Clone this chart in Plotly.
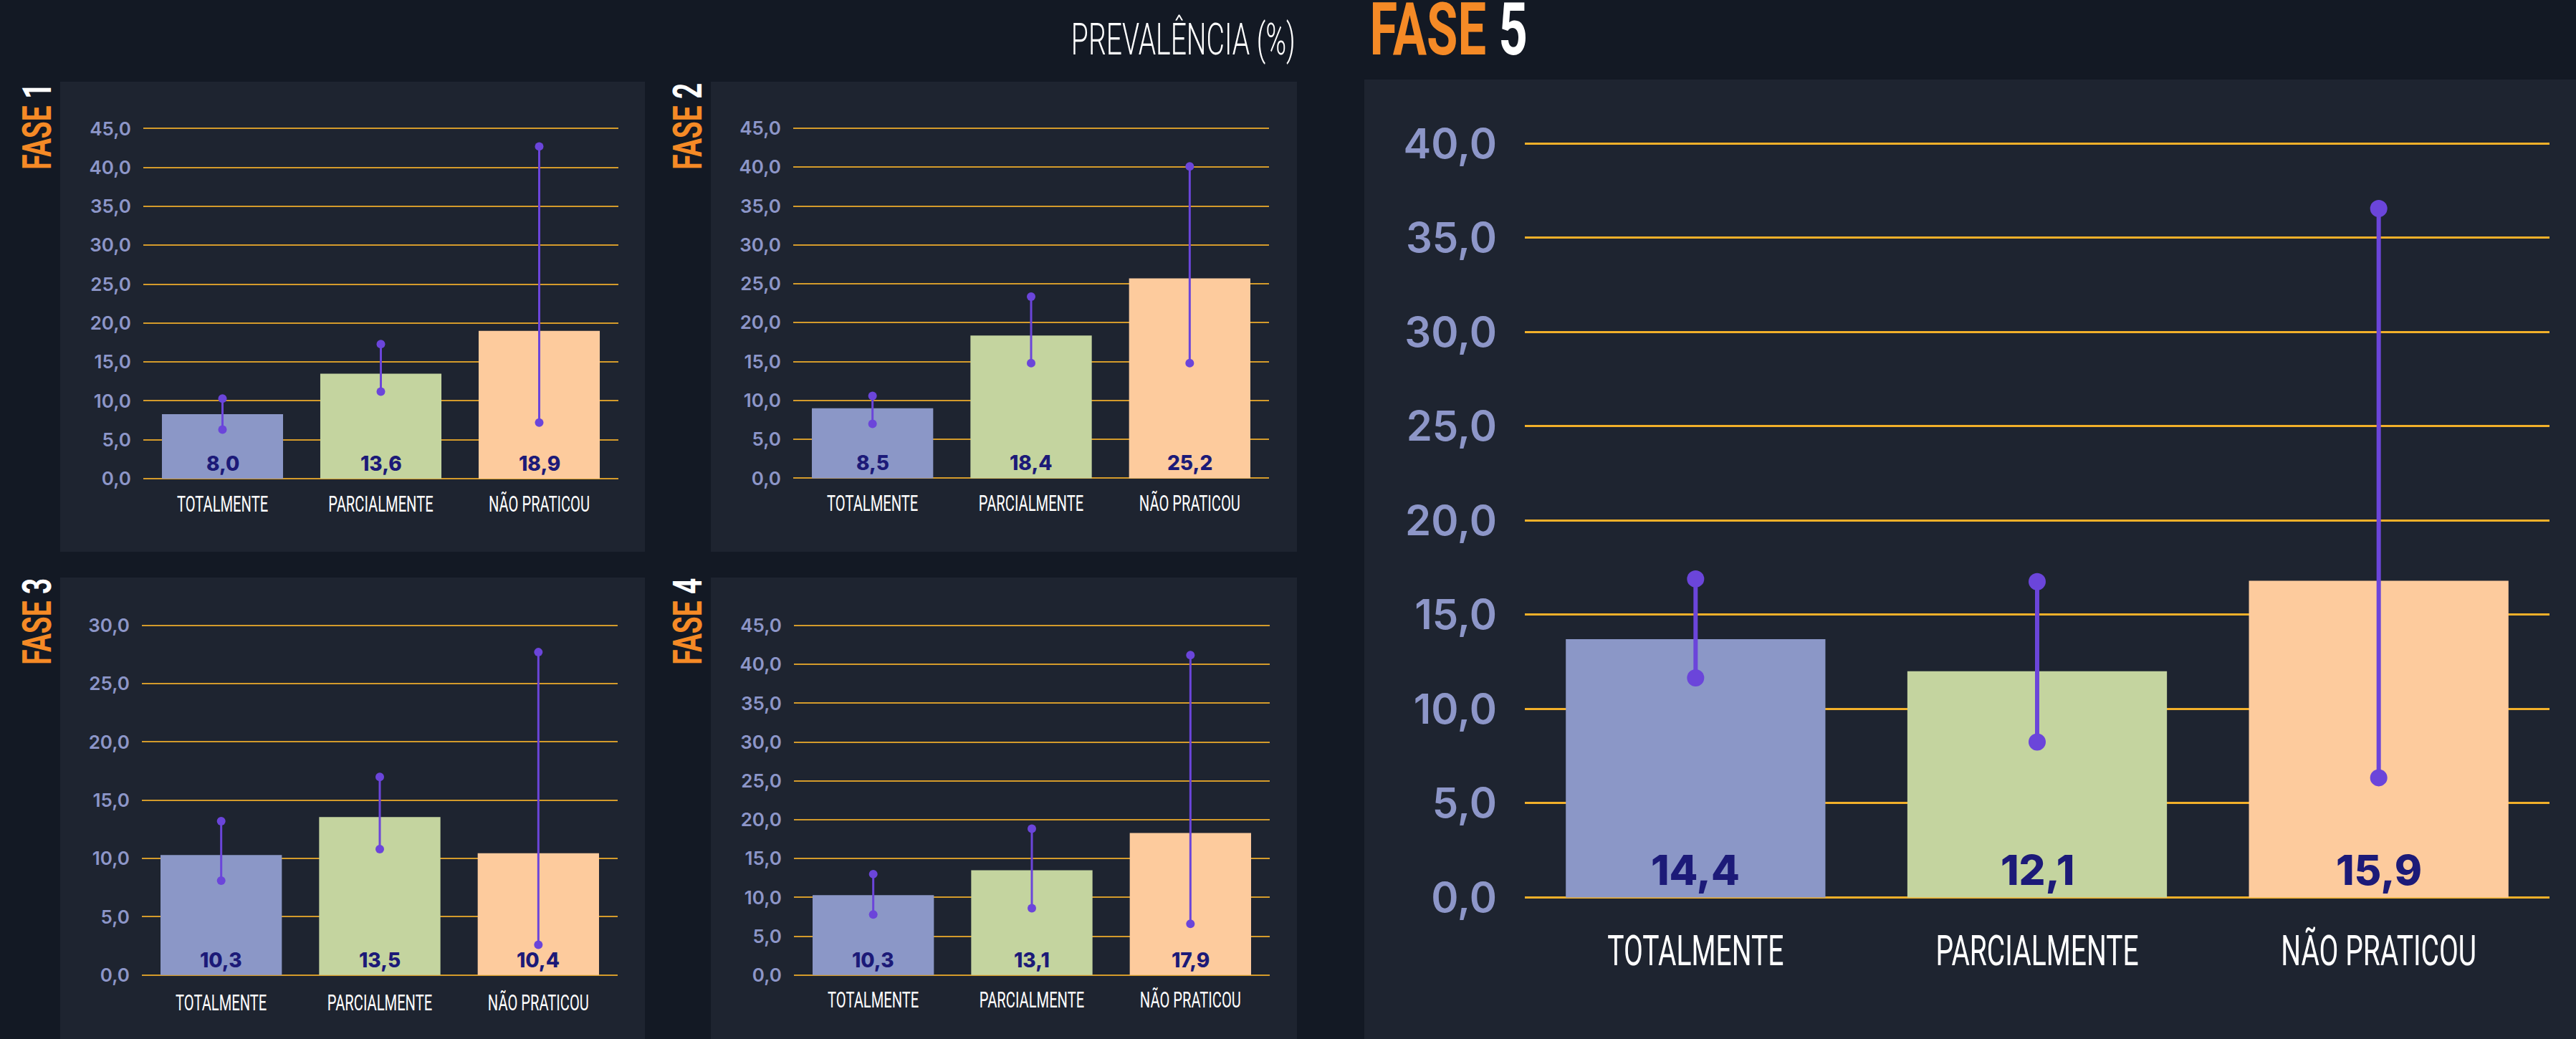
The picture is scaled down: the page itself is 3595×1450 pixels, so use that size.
import plotly.graph_objects as go

# ---------------- DATA ----------------
categorias = ["TOTALMENTE", "PARCIALMENTE", "NÃO PRATICOU"]
fases = ["1", "2", "3", "4", "5"]

barras_f1 = [8.3, 13.5, 19.0]
rotulos_f1 = ["8,0", "13,6", "18,9"]
ic_inf_f1 = [6.3, 11.2, 7.2]
ic_sup_f1 = [10.3, 17.3, 42.7]

barras_f2 = [9.0, 18.35, 25.7]
rotulos_f2 = ["8,5", "18,4", "25,2"]
ic_inf_f2 = [7.0, 14.8, 14.8]
ic_sup_f2 = [10.6, 23.35, 40.1]

barras_f3 = [10.3, 13.55, 10.45]
rotulos_f3 = ["10,3", "13,5", "10,4"]
ic_inf_f3 = [8.1, 10.8, 2.6]
ic_sup_f3 = [13.2, 17.0, 27.7]

barras_f4 = [10.3, 13.5, 18.3]
rotulos_f4 = ["10,3", "13,1", "17,9"]
ic_inf_f4 = [7.8, 8.6, 6.6]
ic_sup_f4 = [13.0, 18.85, 41.2]

barras_f5 = [13.7, 12.0, 16.8]
rotulos_f5 = ["14,4", "12,1", "15,9"]
ic_inf_f5 = [11.65, 8.25, 6.35]
ic_sup_f5 = [16.9, 16.75, 36.55]

eixo_max = [45, 45, 30, 45, 40]

titulo = "PREVALÊNCIA (%)"

# ---------------- STYLE / LAYOUT ----------------
W, H = 3595, 1450
BG = "#131924"
PANEL = "#1e2430"
CORES = ["#8b97c7", "#c4d49f", "#fdcb9d"]
ROXO = "#6b45da"
LARANJA = "#f58a26"
TICK = "#8d96c8"
VALOR = "#1c1a78"
NARROW = "Roboto, Noto Sans, sans-serif"   # condensed afterwards via SVG textLength
NUM = "Inter, Noto Sans, sans-serif"

# plot areas in px: (x0, x1, y_zero_px, y_top_px)
areas = [
    (200, 863, 668.0, 179.4),
    (1107, 1771, 667.5, 179.0),
    (198, 862, 1360.8, 872.7),
    (1108, 1772, 1360.8, 873.0),
    (2128, 3558, 1252.4, 200.3),
]
paineis = [
    (84, 900, 114, 770),
    (992, 1810, 114, 770),
    (84, 900, 806, 1450),
    (992, 1810, 806, 1450),
    (1904, 3595, 111, 1450),
]
rotulo_lateral = [(52, 177), (960, 177), (52, 868), (960, 868)]

dados = [
    (barras_f1, rotulos_f1, ic_inf_f1, ic_sup_f1),
    (barras_f2, rotulos_f2, ic_inf_f2, ic_sup_f2),
    (barras_f3, rotulos_f3, ic_inf_f3, ic_sup_f3),
    (barras_f4, rotulos_f4, ic_inf_f4, ic_sup_f4),
    (barras_f5, rotulos_f5, ic_inf_f5, ic_sup_f5),
]

fig = go.Figure()
shapes = []
annotations = []
layout_axes = {}

for i, ((bar, rot, lo, hi), (x0, x1, yz, yt), vmax) in enumerate(zip(dados, areas, eixo_max)):
    n = i + 1
    big = (i == 4)
    xa = "x" if n == 1 else f"x{n}"
    ya = "y" if n == 1 else f"y{n}"
    ppu = (yz - yt) / vmax
    pad = 0.6
    ybot_px = yz + pad * ppu
    ytop_px = yt - pad * ppu

    fig.add_trace(go.Bar(
        x=categorias, y=bar, marker=dict(color=CORES, line=dict(width=0)),
        width=0.765 if not big else 0.76, xaxis=xa, yaxis=ya, showlegend=False,
        hoverinfo="skip",
    ))
    ex, ey = [], []
    for c, a, b in zip(categorias, lo, hi):
        ex += [c, c, None]
        ey += [a, b, None]
    fig.add_trace(go.Scatter(
        x=ex, y=ey, mode="lines+markers", xaxis=xa, yaxis=ya, showlegend=False,
        line=dict(color=ROXO, width=6 if big else 3),
        marker=dict(color=ROXO, size=24 if big else 12),
        cliponaxis=False, hoverinfo="skip",
    ))
    for c, t in zip(categorias, rot):
        annotations.append(dict(
            x=c, y=0, xref=xa, yref=ya, text=t, showarrow=False,
            yanchor="bottom", yshift=1 if big else 2,
            font=dict(family=NUM, size=58 if big else 28, color=VALOR, weight=800),
        ))

    kx = "xaxis" if n == 1 else f"xaxis{n}"
    ky = "yaxis" if n == 1 else f"yaxis{n}"
    layout_axes[kx] = dict(
        domain=[x0 / W, x1 / W], anchor=ya, range=[-0.5, 2.5], automargin=False,
        showgrid=False, zeroline=False, showline=False, ticks="", tickangle=0,
        tickfont=dict(family=NARROW, size=60 if big else 31, color="#ffffff", weight=400),
        ticklabelstandoff=18 if big else 7,
    )
    layout_axes[ky] = dict(
        domain=[1 - ybot_px / H, 1 - ytop_px / H], anchor=xa, automargin=False,
        range=[-pad, vmax + pad], tick0=0, dtick=5, tickformat=".1f",
        showgrid=True, gridcolor="#f2b02a" if big else "#d49b2b",
        gridwidth=3 if big else 2, zeroline=False, showline=False, ticks="",
        tickfont=dict(family=NUM, size=58 if big else 26, color=TICK, weight=600),
        ticklabelstandoff=38 if big else 16,
    )

for (px0, px1, py0, py1) in paineis:
    shapes.append(dict(
        type="rect", xref="paper", yref="paper", layer="below",
        x0=px0 / W, x1=px1 / W, y0=1 - py1 / H, y1=1 - py0 / H,
        fillcolor=PANEL, line=dict(width=0),
    ))

for f, (cx, cy) in zip(fases[:4], rotulo_lateral):
    annotations.append(dict(
        x=cx / W, y=1 - cy / H, xref="paper", yref="paper",
        xanchor="center", yanchor="middle", textangle=-90, showarrow=False,
        text=f"<span style='color:{LARANJA}'>FASE</span> <span style='color:#ffffff'>{f}</span>",
        font=dict(family=NARROW, size=56, weight=700),
    ))

annotations.append(dict(
    x=1651 / W, y=1 - 55 / H, xref="paper", yref="paper",
    xanchor="center", yanchor="middle", showarrow=False, text=titulo,
    font=dict(family=NARROW, size=62, color="#ffffff", weight=300),
))
annotations.append(dict(
    x=2021 / W, y=1 - 41 / H, xref="paper", yref="paper",
    xanchor="center", yanchor="middle", showarrow=False,
    text=f"<span style='color:{LARANJA}'>FASE</span> <span style='color:#ffffff'>{fases[4]}</span>",
    font=dict(family=NARROW, size=102, weight=700),
))

fig.update_layout(
    width=W, height=H, margin=dict(l=0, r=0, t=0, b=0, autoexpand=False),
    paper_bgcolor=BG, plot_bgcolor="rgba(0,0,0,0)",
    separators=",.", bargap=0.235, showlegend=False,
    shapes=shapes, annotations=annotations, **layout_axes,
)

# condensed lettering (the original uses a condensed typeface): compress the
# "Roboto" texts horizontally with SVG textLength, keeping them as real text.
post = """
document.body.style.margin = '0';
document.body.style.background = '#131924';
document.documentElement.style.overflow = 'hidden';
var run = function() {
  var gd = document.getElementById('{plot_id}');
  gd.querySelectorAll('text').forEach(function(el) {
    var ff = el.style.fontFamily || '';
    if (ff.indexOf('Roboto') !== 0 && ff.indexOf('"Roboto"') !== 0) return;
    var w = String(el.style.fontWeight || '400');
    var k = 0.65;
    if (w === '700' || w === 'bold') k = 0.69;
    if (w === '300') k = 0.63;
    var len = el.getComputedTextLength();
    if (len > 0) {
      el.setAttribute('textLength', (len * k).toFixed(1));
      el.setAttribute('lengthAdjust', 'spacingAndGlyphs');
    }
  });
};
if (document.fonts && document.fonts.ready) { document.fonts.ready.then(run); } else { run(); }
"""

fig.write_html("out.html", post_script=post, config={"displayModeBar": False})
